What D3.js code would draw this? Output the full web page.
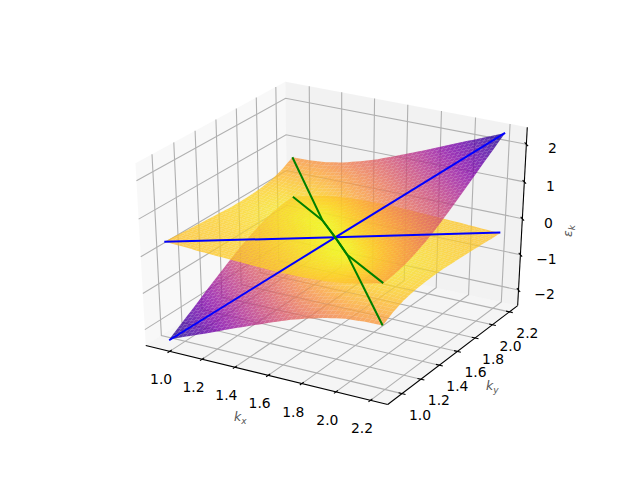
<!DOCTYPE html>
<meta charset="utf-8">
<style>
body {margin: 0; background: #fff;}
text {font-family: "DejaVu Sans"; font-size: 13.9px; fill: #000;}
text.ax {font-style: italic; fill: #555; font-size: 12.5px;}
text.ax tspan {font-size: 9px;}
</style>
<body>
<script src="https://d3js.org/d3.v7.min.js"></script>
<div id="chart"></div>
<script>
// values
var kGrid = [0.94,1.046,1.152,1.258,1.365,1.471,1.577,1.683,1.79,1.896,2.002,2.108,2.215];
var xTicks = [1.0,1.2,1.4,1.6,1.8,2.0,2.2];
var yTicks = [1.0,1.2,1.4,1.6,1.8,2.0,2.2];
var zTicks = [-2,-1,0,1,2];
// upper sheet, rows along kx, columns along ky
var upperBand = [
  [.34,.32,.29,.27,.25,.23,.21,.21,.22,.25,.31,.42,.58],
  [.32,.29,.27,.25,.22,.20,.18,.16,.17,.20,.28,.42,.59],
  [.29,.27,.25,.22,.20,.17,.14,.11,.12,.17,.28,.44,.63],
  [.27,.25,.22,.20,.17,.13,.10,.07,.07,.16,.33,.52,.72],
  [.25,.22,.20,.17,.13,.10,.07,.03,.04,.23,.44,.64,.85],
  [.23,.20,.17,.13,.10,.07,.03,.00,.19,.39,.59,.79,1.00],
  [.21,.18,.14,.10,.07,.03,.00,.19,.38,.57,.77,.97,1.18],
  [.21,.16,.11,.07,.03,.00,.19,.38,.57,.77,.96,1.16,1.37],
  [.22,.17,.12,.07,.04,.19,.38,.57,.77,.96,1.16,1.36,1.56],
  [.25,.20,.17,.16,.23,.39,.57,.77,.96,1.16,1.36,1.56,1.76],
  [.31,.28,.28,.33,.44,.59,.77,.96,1.16,1.36,1.56,1.76,1.96],
  [.41,.41,.44,.52,.64,.79,.97,1.16,1.36,1.56,1.76,1.96,2.15],
  [.53,.56,.62,.72,.85,1.00,1.18,1.37,1.56,1.76,1.96,2.15,2.35]
];
// lower sheet mirrors the upper one through the centre of the plot
var lowerBand = upperBand.map(function(r,i){
  return r.map(function(d,j){return -upperBand[12-i][12-j];});
});
var blue1 = {kx:[.94,1.577,2.215], ky:[.94,1.577,2.215], e:[-2.37,0,2.35]};
var blue2 = {kx:[.94,1.577,2.215], ky:[.94,1.577,2.215], e:[.34,0,-.32]};
var green1 = {kx:[.94,1.40,1.577,1.75,2.215], ky:[2.215,1.75,1.577,1.40,.94], e:[.58,0,0,0,-.58]};
var green2 = {kx:[.94,1.40,1.577,1.75,2.215], ky:[2.215,1.75,1.577,1.40,.94], e:[-.53,0,0,0,.53]};

var xLim = [0.88, 2.27], zLim = [-2.35, 2.35];
var svg = d3.select("#chart").append("svg").attr("width", 640).attr("height", 480);

// 1 camera, elevation 30 azimuth -60
var deg = Math.PI/180, el = 30*deg, az = -60*deg, dist = 10;
var w = [Math.cos(el)*Math.cos(az), Math.cos(el)*Math.sin(az), Math.sin(el)];
var eye = w.map(function(c){return .5+dist*c;});
var ul = Math.hypot(w[0],w[1]), u = [-w[1]/ul, w[0]/ul, 0];
var v = [w[1]*u[2]-w[2]*u[1], w[2]*u[0]-w[0]*u[2], w[0]*u[1]-w[1]*u[0]];
var sx = d3.scaleLinear().domain(xLim).range([0,1]);
var sy = d3.scaleLinear().domain(xLim).range([0,1]);
var sz = d3.scaleLinear().domain(zLim).range([0,1]);
var px = d3.scaleLinear().domain([-.095,.09]).range([80,576]);
var py = d3.scaleLinear().domain([-.095,.09]).range([427.2,57.6]);
function proj(x,y,z){
  var p=[sx(x)-eye[0],sy(y)-eye[1],sz(z)-eye[2]];
  var zv=-(w[0]*p[0]+w[1]*p[1]+w[2]*p[2]);
  return [px((u[0]*p[0]+u[1]*p[1])/zv), py((v[0]*p[0]+v[1]*p[1]+v[2]*p[2])/zv), zv];
}
var line=d3.line();
function path3(pts,stroke,sw,fill){
  svg.append("path").attr("d",line(pts.map(function(p){return proj(p[0],p[1],p[2]).slice(0,2);})))
    .attr("stroke",stroke||"none").attr("stroke-width",sw||0).attr("fill",fill||"none");
}

// 2 panes, grid, axes
var pad = function(l){var d=(l[1]-l[0])/48; return [l[0]-d,l[1]+d];};
var x0=pad(xLim)[0],x1=pad(xLim)[1],z0=pad(zLim)[0],z1=pad(zLim)[1];
path3([[x0,x0,z0],[x0,x1,z0],[x0,x1,z1],[x0,x0,z1],[x0,x0,z0]],null,0,"rgba(242,242,242,.5)");
path3([[x0,x1,z0],[x1,x1,z0],[x1,x1,z1],[x0,x1,z1],[x0,x1,z0]],null,0,"rgba(230,230,230,.5)");
path3([[x0,x0,z0],[x1,x0,z0],[x1,x1,z0],[x0,x1,z0],[x0,x0,z0]],null,0,"rgba(236,236,236,.5)");
var gc="#b0b0b0";
xTicks.forEach(function(t){ path3([[t,x0,z0],[t,x1,z0],[t,x1,z1]],gc,1.1); });
yTicks.forEach(function(t){ path3([[x1,t,z0],[x0,t,z0],[x0,t,z1]],gc,1.1); });
zTicks.forEach(function(t){ path3([[x0,x0,t],[x0,x1,t],[x1,x1,t]],gc,1.1); });
path3([[x0,x0,z0],[x1,x0,z0]],"#000",1.1);
path3([[x1,x0,z0],[x1,x1,z0]],"#000",1.1);
path3([[x1,x1,z0],[x1,x1,z1]],"#000",1.1);
function label(p,dx,dy,s){
  svg.append("text").attr("x",p[0]+dx).attr("y",p[1]+dy).attr("dy",".36em").attr("text-anchor","middle").text(s);
}
xTicks.forEach(function(t){
  path3([[t,x0+.02,z0],[t,x0-.02,z0]],"#000",1.1);
  label(proj(t,x0,z0),-8.5,28,t.toFixed(1));
});
yTicks.forEach(function(t){
  path3([[x1+.02,t,z0],[x1-.02,t,z0]],"#000",1.1);
  label(proj(x1,t,z0),18,21,t.toFixed(1));
});
zTicks.forEach(function(t){
  path3([[x1-.02,x1+.02,t],[x1+.02,x1-.02,t]],"#000",1.1);
  label(proj(x1,x1,t),26,4,String(t).replace("-","\u2212"));
});

// 3 both sheets as small facets, far ones first
var steps = 4, polys = [];
function cellValue(tbl,a,b){
  var i=Math.min(11,Math.floor(a)), j=Math.min(11,Math.floor(b)), p=a-i, q=b-j;
  return tbl[i][j]*(1-p)*(1-q)+tbl[i+1][j]*p*(1-q)+tbl[i][j+1]*(1-p)*q+tbl[i+1][j+1]*p*q;
}
var kAt = d3.scaleLinear().domain([0,12]).range([kGrid[0],kGrid[12]]);
[upperBand,lowerBand].forEach(function(tbl){
  var n=12*steps;
  for(var i=0;i<n;i++)for(var j=0;j<n;j++){
    var c=[[i,j],[i+1,j],[i+1,j+1],[i,j+1]].map(function(q){
      var a=q[0]/steps,b=q[1]/steps;
      return [kAt(a),kAt(b),cellValue(tbl,a,b)];
    });
    var pr=c.map(function(p){return proj(p[0],p[1],p[2]);});
    polys.push({d:line(pr.map(function(p){return p.slice(0,2);})),
      dep:d3.mean(pr,function(p){return p[2];}),
      m:d3.mean(c,function(p){return Math.abs(p[2]);})});
  }
});
polys.sort(function(a,b){return b.dep-a.dep;});
var color = d3.scaleSequential(function(t){return d3.interpolatePlasma(1-t);}).domain([0,2.35]);
svg.append("g").selectAll("path").data(polys).enter().append("path")
  .attr("d",function(d){return d.d+"Z";})
  .attr("fill",function(d){return color(d.m);})
  .attr("fill-opacity",.8);

// 4 cuts along the two diagonals
function cut(c,col){
  path3(c.kx.map(function(k,i){return [k,c.ky[i],c.e[i]];}),col,2);
}
cut(blue1,"#00f"); cut(blue2,"#00f");
cut(green1,"green"); cut(green2,"green");

var kxl=svg.append("text").attr("class","ax").attr("x",234).attr("y",421).text("k");
kxl.append("tspan").attr("dy",3).text("x");
var kyl=svg.append("text").attr("class","ax").attr("x",486).attr("y",390).text("k");
kyl.append("tspan").attr("dy",3).text("y");
var ekl=svg.append("text").attr("class","ax").attr("transform","translate(572,237) rotate(-90)").text("\u03b5");
ekl.append("tspan").attr("dy",3).text("k");
</script>
</body>
